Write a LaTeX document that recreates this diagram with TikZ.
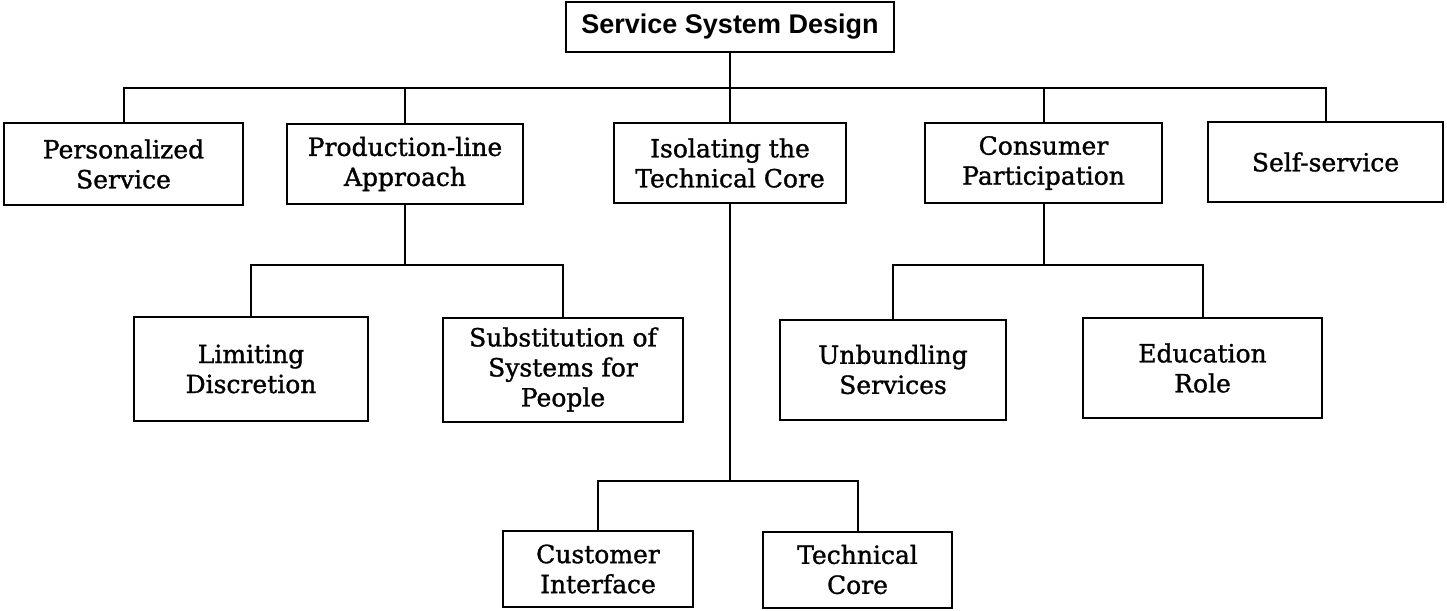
\documentclass[tikz,border=0pt]{standalone}
\usepackage{fontspec}
\setmainfont{DejaVu Serif}[FakeBold=1.2]
\newfontfamily\titlefont{Liberation Sans}
\begin{document}
\begin{tikzpicture}[x=1pt,y=-1pt,
  box/.style={draw, line width=2pt, inner sep=0pt, align=center,
    font=\fontsize{25}{30}\selectfont},
  conn/.style={line width=2pt, line join=miter}]
\useasboundingbox (0,0) rectangle (1447,610);
% level 0
\node[box, minimum width=328pt, minimum height=50pt, font=\titlefont\bfseries\fontsize{27}{30}\selectfont] (top) at (730,27) {Service System Design};
% level 1
\node[box, minimum width=239pt, minimum height=82pt] (pers) at (123.5,164) {Personalized\\Service};
\node[box, minimum width=236pt, minimum height=80pt] (prod) at (405,164) {Production-line\\Approach};
\node[box, minimum width=232pt, minimum height=80pt] (iso) at (730,163) {Isolating the\\Technical Core};
\node[box, minimum width=237pt, minimum height=80pt] (cons) at (1043.5,163) {Consumer\\Participation};
\node[box, minimum width=235pt, minimum height=80pt] (self) at (1325.5,162) {Self-service};
% level 2
\node[box, minimum width=234pt, minimum height=104pt] (lim) at (251,369) {Limiting\\Discretion};
\node[box, minimum width=240pt, minimum height=104pt] (sub) at (563,369.5) {Substitution of\\Systems for\\People};
\node[box, minimum width=226pt, minimum height=100pt] (unb) at (893,369.5) {Unbundling\\Services};
\node[box, minimum width=239pt, minimum height=100pt] (edu) at (1202.5,368) {Education\\Role};
% level 3
\node[box, minimum width=190pt, minimum height=76pt] (cust) at (598,569) {Customer\\Interface};
\node[box, minimum width=189pt, minimum height=76pt] (tech) at (857.5,569.5) {Technical\\Core};
% bus coordinates
\coordinate (b1) at (730,88);
\coordinate (b2) at (405,265);
\coordinate (b3) at (1043.5,265);
\coordinate (b4) at (730,481);
% connectors
\draw[conn] (top.south) -- (b1);
\draw[conn] (pers.north) |- (b1);
\draw[conn] (prod.north) |- (b1);
\draw[conn] (iso.north) -- (b1);
\draw[conn] (cons.north) |- (b1);
\draw[conn] (self.north) |- (b1);
\draw[conn] (prod.south) -- (b2);
\draw[conn] (lim.north) |- (b2);
\draw[conn] (sub.north) |- (b2);
\draw[conn] (cons.south) -- (b3);
\draw[conn] (unb.north) |- (b3);
\draw[conn] (edu.north) |- (b3);
\draw[conn] (iso.south) -- (b4);
\draw[conn] (cust.north) |- (b4);
\draw[conn] (tech.north) |- (b4);
\end{tikzpicture}
\end{document}
